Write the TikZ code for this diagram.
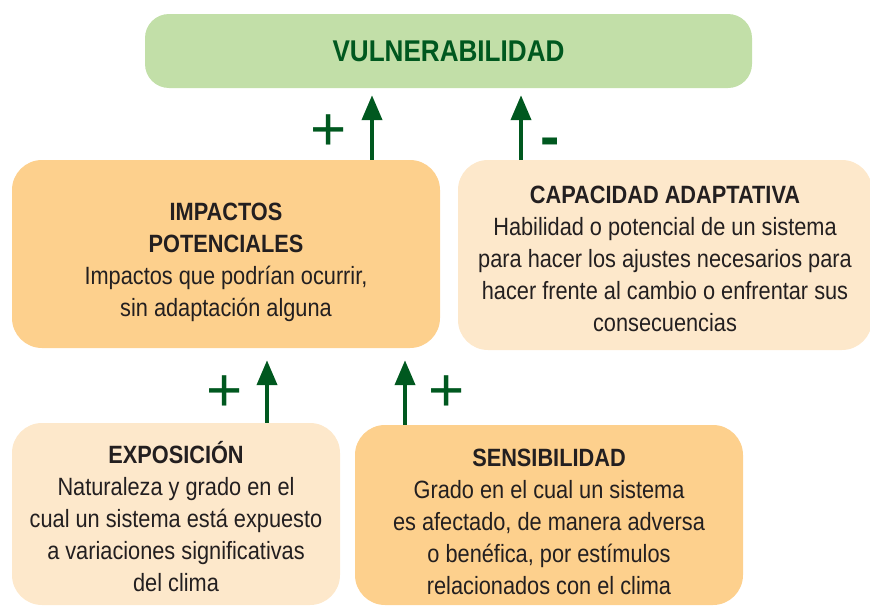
\documentclass[tikz,border=0pt]{standalone}
\usepackage{fontspec}
\setmainfont{Liberation Sans}[FakeStretch=0.87]
\newfontfamily\signfont{Liberation Sans}
\usetikzlibrary{positioning,arrows.meta}

\definecolor{leafgreen}{HTML}{C2DFA8}
\definecolor{darkgreen}{HTML}{00581F}
\definecolor{strongpeach}{HTML}{FDD08D}
\definecolor{softpeach}{HTML}{FDE8CB}
\definecolor{inkgray}{HTML}{231F20}

\begin{document}
\begin{tikzpicture}[
        x=1pt, y=-1pt,
        % define styles
        box/.style={
            draw=none,
            rounded corners=30pt,
            align=center,
            inner sep=0pt,
            text=inkgray,
            font=\fontsize{25}{32}\selectfont
        },
        strong/.style={box, fill=strongpeach},
        soft/.style={box, fill=softpeach},
        sign/.style={
            text=darkgreen,
            inner sep=0pt,
            font=\signfont\fontsize{62}{62}\selectfont
        },
        arr/.style={
            draw=darkgreen,
            line width=4pt,
            -{Triangle[length=25pt,width=20pt]}
        }
    ]
    \useasboundingbox (0,0) rectangle (870,608);

    % top box
    \node[box, fill=leafgreen, rounded corners=24pt,
          minimum width=607pt, minimum height=74pt,
          text=darkgreen, font=\bfseries\fontsize{30}{32}\selectfont]
        (vul) at (448.5,51) {VULNERABILIDAD};

    % middle row
    \node[strong, minimum width=428pt, minimum height=188pt] (imp) at (226,254)
        {\rule{0pt}{34pt}\textbf{IMPACTOS}\\ \textbf{POTENCIALES}\\
         Impactos que podrían ocurrir,\\ sin adaptación alguna};
    \node[soft, minimum width=414pt, minimum height=190pt] (cap) at (665,255)
        {\rule{0pt}{26pt}\textbf{CAPACIDAD ADAPTATIVA}\\ Habilidad o potencial de un sistema\\
         para hacer los ajustes necesarios para\\
         hacer frente al cambio o enfrentar sus\\ consecuencias};

    % bottom row
    \node[soft, minimum width=328pt, minimum height=182pt] (exp) at (176,514)
        {\rule{0pt}{28pt}\textbf{EXPOSICIÓN}\\ Naturaleza y grado en el\\
         cual un sistema está expuesto\\ a variaciones significativas\\ del clima};
    \node[strong, minimum width=388pt, minimum height=180pt] (sen) at (549,515)
        {\rule{0pt}{32pt}\textbf{SENSIBILIDAD}\\ Grado en el cual un sistema\\
         es afectado, de manera adversa\\ o benéfica, por estímulos\\
         relacionados con el clima};

    % arrows into vulnerabilidad
    \draw[arr, shorten >=7pt] (imp.north -| 372,0) -- (vul.south -| 372,0);
    \draw[arr, shorten >=7pt] (cap.north -| 521,0) -- (vul.south -| 521,0);

    % arrows into impactos
    \draw[arr, shorten >=12pt] (exp.north -| 267,0) -- (imp.south -| 267,0);
    \draw[arr, shorten >=12pt] (sen.north -| 405,0) -- (imp.south -| 405,0);

    % signs
    \node[sign] (plusimp) at (329,133) {+};
    \node[sign, font=\signfont\bfseries\fontsize{58}{58}\selectfont]
        (minuscap) at (550,147) {-};
    \node[sign] (plusexp) at (225,394) {+};
    \node[sign] (plussen) at (447,394) {+};
\end{tikzpicture}
\end{document}
